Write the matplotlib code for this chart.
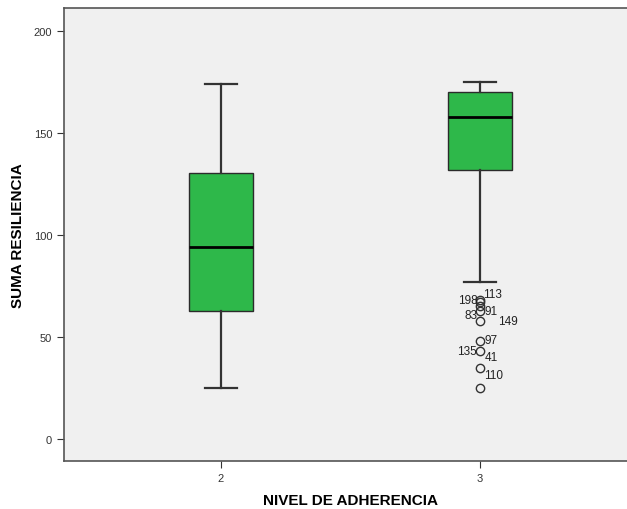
import matplotlib
matplotlib.use('Agg')
import matplotlib.pyplot as plt

plt.rcParams['font.family'] = ['Liberation Sans', 'DejaVu Sans']

# Datos
grupos = [2, 3]
whis_bajo = [25, 77]
q1 = [63, 132]
mediana = [94, 158]
q3 = [130.5, 170]
whis_alto = [174, 175]

# Atipicos del grupo 3 (caso, valor)
casos_atip = ['113', '198', '91', '83', '149', '97', '135', '41', '110']
valores_atip = [68, 67, 65, 63, 58, 48, 43, 35, 25]
# lado de la etiqueta: 1 derecha, -1 izquierda
lado_etiq = [1, -1, 1, -1, 1, 1, -1, 1, 1]
desp_etiq = [(2, 4.5), (-2, 2), (3, -3), (-2, -3), (13, 0), (3, 1), (-2, 0), (3, 7.5), (3, 9.5)]

stats = []
for i, g in enumerate(grupos):
    stats.append({
        'whislo': whis_bajo[i], 'q1': q1[i], 'med': mediana[i],
        'q3': q3[i], 'whishi': whis_alto[i],
        'fliers': valores_atip if g == 3 else [],
    })

fig = plt.figure(figsize=(6.27, 5.10), dpi=100)
ax = fig.add_axes([0.102, 0.094, 0.914, 0.888])
ax.set_facecolor('#f0f0f0')

ax.bxp(stats, positions=grupos, widths=0.25, patch_artist=True,
       boxprops=dict(facecolor='#2eb84a', edgecolor='#2b2b2b', linewidth=1),
       medianprops=dict(color='black', linewidth=2),
       whiskerprops=dict(color='#333333', linewidth=1.6),
       capprops=dict(color='#333333', linewidth=1.6),
       flierprops=dict(marker='o', markerfacecolor='none', markeredgecolor='#333333',
                       markersize=6, markeredgewidth=1))

# Etiquetas de casos atipicos
for caso, val, lado, d in zip(casos_atip, valores_atip, lado_etiq, desp_etiq):
    ax.annotate(caso, (3, val), xytext=d, textcoords='offset points',
                ha='left' if lado > 0 else 'right', va='center', fontsize=8.5,
                color='#222222')

ax.set_xlim(1.394, 3.606)
ax.set_ylim(-10.8, 211.3)
ax.set_xticks(grupos)
ax.set_yticks([0, 50, 100, 150, 200])
ax.tick_params(labelsize=8, colors='#333333', length=5)
for s in ['left', 'bottom', 'top']:
    ax.spines[s].set_color('#555555')
    ax.spines[s].set_linewidth(1.2)
ax.spines['right'].set_visible(False)

ax.set_xlabel('NIVEL DE ADHERENCIA', fontsize=11, fontweight='bold', labelpad=7)
ax.set_ylabel('SUMA RESILIENCIA', fontsize=11, fontweight='bold', labelpad=6)

fig.savefig('out.png', dpi=100)
